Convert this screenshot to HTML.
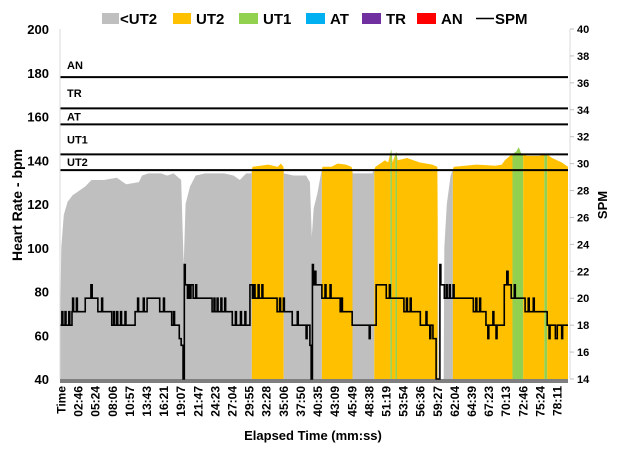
<!DOCTYPE html>
<html><head><meta charset="utf-8"><style>
html,body{margin:0;padding:0;background:#fff;}
svg{display:block;font-family:"Liberation Sans",sans-serif;}
</style></head><body>
<svg id="chart" width="620" height="451" viewBox="0 0 620 451" xmlns="http://www.w3.org/2000/svg">
<g id="legend" font-size="15" font-weight="bold" fill="#000">
 <g><rect x="102" y="13" width="17" height="11" fill="#bfbfbf"/><text x="120" y="24">&lt;UT2</text></g>
 <g><rect x="173" y="13" width="18" height="11" fill="#ffc000"/><text x="196" y="24">UT2</text></g>
 <g><rect x="239" y="13" width="19" height="11" fill="#92d050"/><text x="263" y="24">UT1</text></g>
 <g><rect x="306" y="13" width="19" height="11" fill="#00b0f0"/><text x="330" y="24">AT</text></g>
 <g><rect x="362" y="13" width="19" height="11" fill="#7030a0"/><text x="386" y="24">TR</text></g>
 <g><rect x="417" y="13" width="19" height="11" fill="#ff0000"/><text x="441" y="24">AN</text></g>
 <g><line x1="476" y1="18.5" x2="494" y2="18.5" stroke="#000" stroke-width="1.5"/><text x="495" y="24">SPM</text></g>
</g>
<g id="areas"></g>
<g id="zones"></g>
<g id="spm"></g>
<g id="axes"></g>
<text transform="translate(22,205) rotate(-90)" text-anchor="middle" font-size="14" font-weight="bold">Heart Rate - bpm</text>
<text transform="translate(607,205) rotate(-90)" text-anchor="middle" font-size="13" font-weight="bold">SPM</text>
<text x="313" y="440" text-anchor="middle" font-size="13" font-weight="bold">Elapsed Time (mm:ss)</text>
</svg>
<script>
// ---- data ----
const hrTimes = [0,0.2,0.6,1.2,2,3,4,5,7,9,10.5,12.5,13,14,16,17,18,19.2,19.6,19.9,20.6,21.5,23,26,27.5,28.5,29.5,30.3,30.5,33,34.5,35,35.4,35.5,37,39,39.6,39.9,40.2,40.8,41.3,41.6,43,44,45.3,46.2,46.4,49.5,50,51.5,52,52.5,52.7,53.3,53.5,55,57,59,59.8,60,60.8,60.9,61.3,61.9,62.4,66,69,70,70.5,71.3,72.3,72.7,73.1,74,76,77,78,79.5,80.5];
const hrValues = [60,100,115,121,124,126,128,131,131,132,129,130,133,134,134,133,134,131,92,120,128,133,134,134,133,131,134,134,137,138,137,138.5,137,134,133,133,130,105,118,125,133,137,137,138.5,138,137,134,134,137,140,139,145,139,144,140,141,139,138,137,40,40,100,120,133,137,138,137.5,138,140,142,144,146,143,142,142,143,141,139,137];
const spmTimes = [0,0.3,0.45,0.8,0.95,1.4,1.55,1.9,2.0,2.15,2.6,2.75,4.0,4.9,5.1,6.0,6.6,6.75,8.2,8.5,8.65,9.0,9.15,9.6,9.75,10.3,10.45,11.9,12.3,12.45,13.2,13.35,13.8,15.8,16.4,16.55,17.7,18.0,18.15,18.9,19.2,19.5,19.7,19.85,20.2,20.35,20.6,20.75,21.1,21.5,21.65,24.1,24.4,24.55,24.9,25.05,25.5,25.65,26.1,26.25,27.3,27.8,27.95,28.6,28.75,29.3,29.45,30.1,30.5,30.65,30.9,31.4,31.55,32.0,32.15,34.4,34.8,34.95,35.4,35.55,36.8,37.6,37.75,39.0,39.15,39.6,39.8,40.0,40.15,40.4,40.55,41.5,42.0,42.15,42.8,42.95,44.4,44.6,44.75,46.3,49.0,49.15,50.1,51.7,52.2,52.35,54.5,54.9,55.05,55.5,55.65,57.1,58.0,58.15,58.6,58.75,59.1,59.6,60.2,60.35,60.9,61.2,61.35,61.7,61.85,62.3,62.45,65.5,65.9,66.05,66.5,66.65,67.5,67.8,67.95,68.6,68.75,69.1,69.25,70.4,70.8,71.0,71.5,72.0,72.15,73.7,74.2,74.35,75.0,75.15,77.2,77.5,77.65,78.5,78.8,79.5,79.65];
const spmValues = [18,19,18,19,18,19,18,19,20,19,20,19,20,21,20,19,20,19,18,19,18,19,18,19,18,19,18,19,20,19,20,19,20,19,20,19,18,19,18,17,16.5,14,22.5,21,20,21,20,21,20,21,20,19,20,19,20,19,20,19,20,19,18,19,18,19,18,19,18,21,20,21,20,21,20,21,20,19,20,19,20,19,18,19,18,17,18,16.5,14,22.5,21,22,21,20,21,20,21,20,19,20,19,18,17,18,21,20,21,20,19,20,19,20,19,18,19,18,17,18,17,14,22.5,21,20,21,20,21,20,21,20,19,20,19,20,19,18,17,18,19,18,17,18,21,22,21,20,21,20,19,20,19,20,19,18,17,18,17,18,17,18];
const yTicks = [40,60,80,100,120,140,160,180,200];
const y2Ticks = [14,16,18,20,22,24,26,28,30,32,34,36,38,40];
const xLabels = ["Time","02:46","05:24","08:06","10:57","13:43","16:21","19:07","21:47","24:23","27:04","29:55","32:28","35:06","37:50","40:35","43:09","45:49","48:38","51:19","53:54","56:36","59:27","62:04","64:39","67:23","70:13","72:46","75:24","78:11"];
const zoneBounds = [135.5,142.7,156.4,163.7,178];
const zoneNames = ["UT2","UT1","AT","TR","AN"];
// ---- layout ----
const NS="http://www.w3.org/2000/svg";
const L=60,R=568,T=29,B=379,TMAX=80.5;
const x=t=>L+t/TMAX*(R-L);
const y=v=>B-(v-40)/160*(B-T);
const y2=v=>B-(v-14)/26*(B-T);
function mk(tag,parent,attrs){const e=document.createElementNS(NS,tag);for(const k in attrs)e.setAttribute(k,attrs[k]);parent.appendChild(e);return e;}
function hrAt(t){for(let i=0;i<hrTimes.length-1;i++){if(t<=hrTimes[i+1]){const f=(t-hrTimes[i])/(hrTimes[i+1]-hrTimes[i]);return hrValues[i]+f*(hrValues[i+1]-hrValues[i]);}}return hrValues[hrValues.length-1];}
function zoneColor(v){if(v<zoneBounds[0])return"#bfbfbf";if(v<zoneBounds[1])return"#ffc000";if(v<zoneBounds[2])return"#92d050";if(v<zoneBounds[3])return"#00b0f0";if(v<zoneBounds[4])return"#7030a0";return"#ff0000";}
// area
const ga=document.getElementById('areas');
const step=0.05;
let segColor=null,pts=[];
function flush(){if(pts.length<2)return;let d="M"+x(pts[0][0])+","+B;pts.forEach(p=>d+="L"+x(p[0]).toFixed(2)+","+y(p[1]).toFixed(2));d+="L"+x(pts[pts.length-1][0])+","+B+"Z";
 const p=mk('path',ga,{d:d,fill:segColor});
 
 }
for(let t=0;t<=TMAX+1e-6;t+=step){const v=hrAt(t);const c=zoneColor(v);
 if(c!==segColor){if(segColor){pts.push([t,v]);flush();}segColor=c;pts=[[t,v]];}else pts.push([t,v]);}
flush();
const bb=mk('rect',ga,{x:L,y:B,width:R-L,height:4,fill:"#7f7f7f"});


// zones
const gz=document.getElementById('zones');
zoneBounds.forEach((b,i)=>{const ln=mk('line',gz,{x1:L,x2:R,y1:y(b),y2:y(b),stroke:"#000","stroke-width":2});
 
 
 const top=i<zoneBounds.length-1?zoneBounds[i+1]:200;
 const ly=i<zoneBounds.length-1?(y(b)+y(top))/2+4:y(b)-8;
 const tx=mk('text',gz,{x:67,y:ly,"font-size":11,"font-weight":"bold"});tx.textContent=zoneNames[i];
 
 });
// spm
const gs=document.getElementById('spm');
let d="";for(let i=0;i<spmTimes.length;i++){const xx=x(spmTimes[i]).toFixed(2),yy=y2(spmValues[i]).toFixed(2);
 if(i===0)d="M"+xx+","+yy;else d+="L"+xx+","+y2(spmValues[i-1]).toFixed(2)+"L"+xx+","+yy;}
d+="L"+x(TMAX)+","+y2(spmValues[spmValues.length-1]).toFixed(2);
const sp=mk('path',gs,{d:d,fill:"none",stroke:"#000","stroke-width":1.6});


// axes
const gx=document.getElementById('axes');
const la=mk('line',gx,{x1:L,x2:L,y1:T,y2:B,stroke:"#d9d9d9"});

const ra=mk('line',gx,{x1:R+2,x2:R+2,y1:T,y2:B,stroke:"#d9d9d9"});

yTicks.forEach(v=>{const t=mk('text',gx,{x:49,y:y(v)+5,"text-anchor":"end","font-size":13,"font-weight":"bold"});t.textContent=v;
 });
y2Ticks.forEach(v=>{const tk=mk('line',gx,{x1:R+2,x2:R+6,y1:y2(v),y2:y2(v),stroke:"#bfbfbf"});
 
 const t=mk('text',gx,{x:577,y:y2(v)+4,"font-size":11,"font-weight":"bold"});t.textContent=v;
 });
const x0=61,x1=557;
xLabels.forEach((s,i)=>{const xx=x0+i*(x1-x0)/(xLabels.length-1);
 const t=mk('text',gx,{transform:"translate("+(xx+4.5)+",386) rotate(-90)","text-anchor":"end","font-size":12,"font-weight":"bold"});t.textContent=s;
 });
</script>
</body></html>
